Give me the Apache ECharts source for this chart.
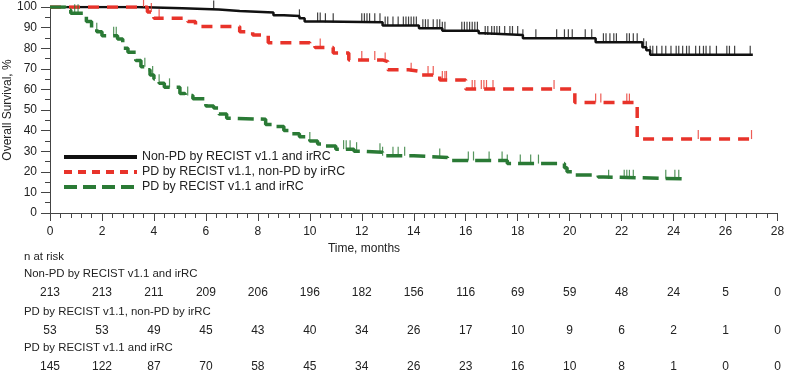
<!DOCTYPE html>
<html>
<head>
<meta charset="utf-8">
<script src="https://cdn.jsdelivr.net/npm/echarts@6/dist/echarts.min.js"></script>
<style>html,body{margin:0;padding:0;background:#fff}#c{width:785px;height:374px}</style>
</head>
<body>
<div id="c"></div>
<script>
var seriesNames = ['Non-PD by RECIST v1.1 and irRC', 'PD by RECIST v1.1, non-PD by irRC', 'PD by RECIST v1.1 and irRC'];
var xTicks = [0, 2, 4, 6, 8, 10, 12, 14, 16, 18, 20, 22, 24, 26, 28];

var blackTimes = [0, 3.3, 5.1, 6.5, 7.3, 8.6, 9.0, 9.6, 9.8, 10.5, 12.8, 14.2, 15.1, 16.5, 16.7, 18.2, 21.0, 22.8, 22.95, 23.1, 27.05];
var blackSurv  = [100, 99.4, 98.8, 98, 97.3, 96, 95.6, 94.5, 93, 92.6, 91, 89.7, 88.5, 87.2, 86.4, 84.8, 82.9, 80.5, 79, 76.8, 76.8];

var redTimes = [0, 3.75, 4.0, 5.3, 5.6, 7.3, 7.8, 8.4, 10.0, 10.2, 10.9, 11.5, 12.8, 13.0, 13.8, 14.3, 15.0, 16.0, 20.2, 22.6, 27.1];
var redSurv  = [100, 97.6, 94.5, 93, 90.5, 88, 86.4, 82.7, 81.6, 80.3, 77.7, 74.3, 73.5, 69.5, 68.6, 67, 64.6, 60.2, 53.6, 35.9, 35.9];

var greenTimes = [0, 0.6, 0.8, 1.4, 1.6, 1.8, 2.0, 2.6, 2.8, 3.0, 3.3, 3.5, 3.7, 3.85, 4.0, 4.2, 4.4, 5.0, 5.2, 5.5, 6.0, 6.3, 6.5, 6.8, 7.0, 8.3, 8.6, 9.0, 9.3, 9.6, 10.0, 10.3, 10.6, 11.0, 11.7, 12.0, 12.8, 14.0, 15.3, 17.6, 19.8, 19.9, 20.1, 21.1, 21.3, 24.35];
var greenSurv  = [100, 98.5, 97, 93, 90, 88, 86, 84.5, 80, 78, 74, 71, 69.5, 67, 65, 63, 61, 58, 57, 55.5, 52, 51, 48, 46, 45.5, 43, 42, 40, 38.5, 37, 35, 33.5, 32.5, 31, 30, 29.5, 27.8, 27, 25.5, 24, 22, 20, 18.5, 17.5, 16.6, 16.6];

var blackCensor = [6.3, 9.6, 10.3, 10.4, 10.6, 10.9, 12.0, 12.1, 12.2, 12.3, 12.5, 12.7, 12.9, 13.0, 13.2, 13.4, 13.6, 13.7, 13.8, 13.9, 14.0, 14.1, 14.35, 14.45, 14.55, 14.75, 14.9, 15.0, 15.1, 15.2, 15.85, 15.95, 16.05, 16.15, 16.25, 16.35, 16.45, 16.75, 16.85, 17.0, 17.1, 17.2, 17.3, 17.5, 17.7, 17.8, 18.0, 18.2, 18.7, 19.5, 19.8, 19.95, 20.1, 20.6, 20.85, 21.3, 21.4, 21.55, 21.7, 21.8, 22.2, 22.3, 22.45, 22.6, 22.85, 22.95, 23.1, 23.2, 23.35, 23.55, 23.7, 23.9, 24.1, 24.2, 24.35, 24.5, 24.6, 24.85, 25.0, 25.15, 25.25, 25.4, 25.65, 26.05, 26.15, 26.35, 26.95];
var redCensor = [3.6, 3.9, 4.2, 10.4, 12.0, 12.5, 12.9, 13.9, 14.55, 14.75, 15.1, 15.2, 15.26, 16.25, 16.35, 16.6, 16.7, 16.8, 17.05, 19.4, 21.0, 21.2, 22.2, 22.3, 24.95, 27.0];
var greenCensor = [0.95, 1.08, 1.8, 2.45, 2.55, 3.65, 3.95, 4.2, 4.6, 5.3, 10.0, 11.3, 11.4, 11.55, 11.8, 12.7, 12.8, 13.2, 13.4, 13.65, 15.0, 16.1, 16.3, 16.9, 17.4, 17.6, 18.1, 18.5, 18.8, 21.5, 22.1, 22.2, 22.3, 22.45, 23.7, 24.05, 24.2];

var riskBlack = [213, 213, 211, 209, 206, 196, 182, 156, 116, 69, 59, 48, 24, 5, 0];
var riskRed   = [53, 53, 49, 45, 43, 40, 34, 26, 17, 10, 9, 6, 2, 1, 0];
var riskGreen = [145, 122, 87, 70, 58, 45, 34, 26, 23, 16, 10, 8, 1, 0, 0];

var colors = ['#111111', '#e8332a', '#2a7a35'];
var FONT = '"Liberation Sans", Arial, sans-serif';

function pairs(ts, ss) { return ts.map(function (t, i) { return [t, ss[i]]; }); }
function survAt(ts, ss, t) {
  var v = ss[0];
  for (var i = 0; i < ts.length; i++) { if (ts[i] <= t) v = ss[i]; }
  return v;
}
function censorPts(cs, ts, ss) { return cs.map(function (t) { return [t, survAt(ts, ss, t)]; }); }

var chart = echarts.init(document.getElementById('c'), null, { renderer: 'canvas' });

var axisColor = '#444';
function riskAxis(arr, offset) {
  return {
    type: 'value', gridIndex: 0, position: 'bottom', offset: offset,
    min: 0, max: 28, interval: 2,
    axisLine: { show: false }, axisTick: { show: false }, splitLine: { show: false },
    axisLabel: {
      show: true, interval: 0, margin: 12, showMinLabel: true, showMaxLabel: true,
      color: '#222', fontFamily: FONT, fontSize: 12,
      formatter: function (v) { var i = Math.round(v / 2); return arr[i] !== undefined ? String(arr[i]) : ''; }
    }
  };
}

var censorStyle = function (c) {
  return { type: 'scatter', symbol: 'rect', symbolSize: [1.2, 9], symbolOffset: [0, -4.5],
    itemStyle: { color: c }, silent: true, z: 4, animation: false };
};

var option = {
  animation: false,
  backgroundColor: '#fff',
  grid: { left: 50, right: 7.5, top: 7, bottom: 161, outerBoundsMode: 'none', containLabel: false },
  xAxis: [
    {
      type: 'value', min: 0, max: 28, interval: 2,
      axisLine: { show: true, lineStyle: { color: axisColor, width: 1 } },
      axisTick: { show: true, length: 8, lineStyle: { color: axisColor } },
      minorTick: { show: true, splitNumber: 5, length: 5, lineStyle: { color: axisColor } },
      splitLine: { show: false },
      axisLabel: { margin: 13, color: '#222', fontFamily: FONT, fontSize: 12,
        formatter: function (v) { return String(v); } }
    },
    riskAxis(riskBlack, 62),
    riskAxis(riskRed, 100),
    riskAxis(riskGreen, 136)
  ],
  yAxis: {
    type: 'value', min: 0, max: 100, interval: 10,
    axisLine: { show: true, lineStyle: { color: axisColor, width: 1 } },
    axisTick: { show: true, length: 9, lineStyle: { color: axisColor } },
    minorTick: { show: true, splitNumber: 2, length: 5, lineStyle: { color: axisColor } },
    splitLine: { show: false },
    axisLabel: { margin: 13, color: '#222', fontFamily: FONT, fontSize: 12 }
  },
  legend: {
    orient: 'vertical', left: 62, top: 151, padding: 0, itemWidth: 73, itemHeight: 14, itemGap: 3,
    textStyle: { color: '#222', fontFamily: FONT, fontSize: 12.4 },
    data: [
      { name: seriesNames[0], itemStyle: { opacity: 0 }, lineStyle: { width: 4, type: 'solid' } },
      { name: seriesNames[1], itemStyle: { opacity: 0 }, lineStyle: { width: 4, type: [8, 6] } },
      { name: seriesNames[2], itemStyle: { opacity: 0 }, lineStyle: { width: 4, type: [13, 6] } }
    ]
  },
  graphic: [
    { type: 'text', x: 8, y: 110, rotation: Math.PI / 2, style: { text: 'Overall Survival, %', fill: '#222', font: '12px ' + FONT, align: 'center', verticalAlign: 'middle' } },
    { type: 'text', x: 364, y: 249, style: { text: 'Time, months', fill: '#222', font: '12px ' + FONT, align: 'center', verticalAlign: 'middle' } },
    { type: 'text', x: 24, y: 257, style: { text: 'n at risk', fill: '#222', font: '11.4px ' + FONT, align: 'left', verticalAlign: 'middle' } },
    { type: 'text', x: 24, y: 274, style: { text: seriesNames[0], fill: '#222', font: '11.4px ' + FONT, align: 'left', verticalAlign: 'middle' } },
    { type: 'text', x: 24, y: 312, style: { text: seriesNames[1], fill: '#222', font: '11.4px ' + FONT, align: 'left', verticalAlign: 'middle' } },
    { type: 'text', x: 24, y: 348, style: { text: seriesNames[2], fill: '#222', font: '11.4px ' + FONT, align: 'left', verticalAlign: 'middle' } }
  ],
  series: [
    { name: seriesNames[0], type: 'line', step: 'end', showSymbol: false, symbol: 'none',
      data: pairs(blackTimes, blackSurv), lineStyle: { color: colors[0], width: 2.5 }, itemStyle: { color: colors[0] }, z: 3 },
    { name: seriesNames[1], type: 'line', step: 'end', showSymbol: false, symbol: 'none',
      data: pairs(redTimes, redSurv), lineStyle: { color: colors[1], width: 3.5, type: [11, 8] }, itemStyle: { color: colors[1] }, z: 3 },
    { name: seriesNames[2], type: 'line', step: 'end', showSymbol: false, symbol: 'none',
      data: pairs(greenTimes, greenSurv), lineStyle: { color: colors[2], width: 3.5, type: [16, 7] }, itemStyle: { color: colors[2] }, z: 3 },
    Object.assign(censorStyle(colors[0]), { name: 'c0', data: censorPts(blackCensor, blackTimes, blackSurv) }),
    Object.assign(censorStyle(colors[1]), { name: 'c1', data: censorPts(redCensor, redTimes, redSurv) }),
    Object.assign(censorStyle(colors[2]), { name: 'c2', data: censorPts(greenCensor, greenTimes, greenSurv) })
  ]
};
chart.setOption(option);
</script>
</body>
</html>
